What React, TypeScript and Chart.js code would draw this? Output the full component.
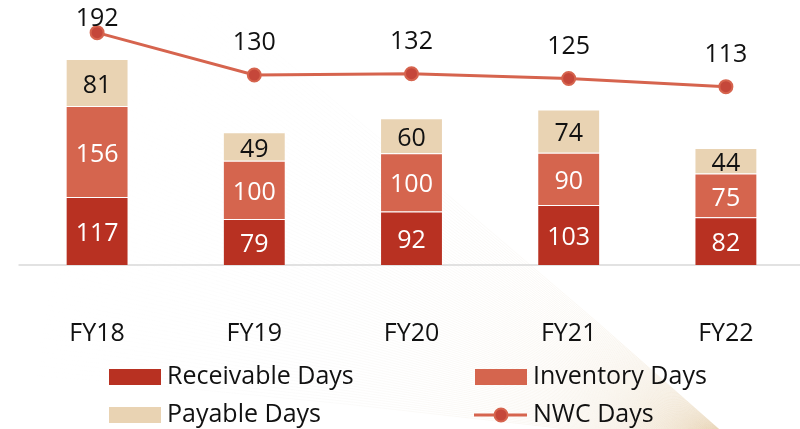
import React, { useEffect, useRef } from "react";
import { Chart, registerables } from "chart.js";

Chart.register(...registerables);

const categories = ["FY18", "FY19", "FY20", "FY21", "FY22"];
const receivableDays = [117, 79, 92, 103, 82];
const inventoryDays = [156, 100, 100, 90, 75];
const payableDays = [81, 49, 60, 74, 44];
const nwcDays = [192, 130, 132, 125, 113];
const seriesNames = ["Receivable Days", "Inventory Days", "Payable Days", "NWC Days"];

const FONT = '"Open Sans", "Noto Sans", sans-serif';
const C_REC = "#B83122";
const C_INV = "#D5654E";
const C_PAY = "#E9D3B3";
const C_LINE = "#D6644E";
const C_POINT = "#C5473A";
const TEXT = "#111111";

const fanPlugin = {
  id: "fanBg",
  beforeDraw(chart: any) {
    const ctx = chart.ctx;
    ctx.save();
    const px = 745;
    const py = 452;
    const grad = ctx.createRadialGradient(px, py, 0, px, py, 720);
    grad.addColorStop(0, "rgba(215,180,125,0.26)");
    grad.addColorStop(0.3, "rgba(220,195,155,0.12)");
    grad.addColorStop(0.65, "rgba(210,210,210,0.08)");
    grad.addColorStop(1, "rgba(225,225,225,0)");
    ctx.strokeStyle = grad;
    ctx.lineWidth = 1;
    const n = 90;
    const a0 = (186 * Math.PI) / 180;
    const a1 = (220 * Math.PI) / 180;
    for (let i = 0; i < n; i++) {
      const a = a0 + ((a1 - a0) * i) / (n - 1);
      ctx.beginPath();
      ctx.moveTo(px, py);
      const bend = 0.03;
      const mx = px + Math.cos(a + bend) * 400;
      const my = py + Math.sin(a + bend) * 400;
      ctx.quadraticCurveTo(mx, my, px + Math.cos(a) * 800, py + Math.sin(a) * 800);
      ctx.stroke();
    }
    ctx.restore();
  },
};

const baselinePlugin = {
  id: "baseline",
  beforeDatasetsDraw(chart: any) {
    const ctx = chart.ctx;
    const y = chart.scales.y.getPixelForValue(0);
    ctx.save();
    ctx.strokeStyle = "#D9D9D9";
    ctx.lineWidth = 1.5;
    ctx.beginPath();
    ctx.moveTo(chart.chartArea.left, y);
    ctx.lineTo(chart.chartArea.right, y);
    ctx.stroke();
    ctx.restore();
  },
};

const labelsPlugin = {
  id: "valueLabels",
  afterDatasetsDraw(chart: any) {
    const ctx = chart.ctx;
    ctx.save();
    ctx.font = `25px ${FONT}`;
    ctx.textAlign = "center";
    ctx.textBaseline = "middle";
    chart.data.datasets.forEach((ds: any, i: number) => {
      const meta = chart.getDatasetMeta(i);
      meta.data.forEach((el: any, j: number) => {
        const v = ds.data[j];
        if (ds.type === "line") {
          ctx.fillStyle = TEXT;
          ctx.fillText(String(v), el.x, Math.max(el.y - 32, 19));
        } else {
          const p = el.getProps(["x", "y", "base"], true);
          ctx.fillStyle = i === 2 ? TEXT : "#FFFFFF";
          ctx.fillText(String(v), p.x, (p.y + p.base) / 2 + 3);
        }
      });
    });
    ctx.restore();
  },
};

const legendPlugin = {
  id: "gridLegend",
  afterDraw(chart: any) {
    const ctx = chart.ctx;
    ctx.save();
    ctx.font = `25px ${FONT}`;
    ctx.textBaseline = "middle";
    ctx.textAlign = "left";
    const cols = [109, 475];
    const rows = [377, 415];
    chart.data.datasets.forEach((ds: any, i: number) => {
      const x = cols[i % 2];
      const y = rows[Math.floor(i / 2)];
      if (ds.type === "line") {
        ctx.strokeStyle = C_LINE;
        ctx.lineWidth = 3;
        ctx.beginPath();
        ctx.moveTo(x - 1, y);
        ctx.lineTo(x + 52, y);
        ctx.stroke();
        ctx.beginPath();
        ctx.arc(x + 26, y, 6.5, 0, Math.PI * 2);
        ctx.fillStyle = C_POINT;
        ctx.fill();
        ctx.lineWidth = 2;
        ctx.strokeStyle = C_LINE;
        ctx.stroke();
      } else {
        ctx.fillStyle = ds.backgroundColor;
        ctx.fillRect(x, y - 8, 52, 16);
      }
      ctx.fillStyle = TEXT;
      ctx.fillText(ds.label, x + 58, y);
    });
    ctx.restore();
  },
};

export default function App() {
  const ref = useRef<HTMLCanvasElement | null>(null);

  useEffect(() => {
    if (!ref.current) return;
    Chart.defaults.font.family = FONT;
    const chart = new Chart(ref.current, {
      type: "bar",
      data: {
        labels: categories,
        datasets: [
          {
            type: "bar",
            label: seriesNames[0],
            data: receivableDays,
            backgroundColor: C_REC,
            borderColor: "rgba(255,255,255,0.3)",
            borderWidth: 1,
            stack: "s",
            yAxisID: "y",
            order: 2,
          },
          {
            type: "bar",
            label: seriesNames[1],
            data: inventoryDays,
            backgroundColor: C_INV,
            borderColor: "rgba(255,255,255,0.3)",
            borderWidth: 1,
            stack: "s",
            yAxisID: "y",
            order: 2,
          },
          {
            type: "bar",
            label: seriesNames[2],
            data: payableDays,
            backgroundColor: C_PAY,
            borderColor: "rgba(255,255,255,0.3)",
            borderWidth: 1,
            stack: "s",
            yAxisID: "y",
            order: 2,
          },
          {
            type: "line",
            label: seriesNames[3],
            data: nwcDays,
            borderColor: C_LINE,
            borderWidth: 3,
            pointRadius: 6.5,
            pointBackgroundColor: C_POINT,
            pointBorderColor: C_LINE,
            pointBorderWidth: 2,
            yAxisID: "y2",
            order: 1,
          } as any,
        ],
      },
      options: {
        responsive: false,
        animation: false,
        layout: { padding: { left: 18.5, right: 0, top: 10, bottom: 0 } },
        datasets: { bar: { categoryPercentage: 1, barPercentage: 0.4 } } as any,
        plugins: { legend: { display: false }, tooltip: { enabled: false } },
        scales: {
          x: {
            stacked: true,
            grid: { display: false, drawTicks: false },
            border: { display: false },
            ticks: { color: TEXT, font: { size: 25, family: FONT }, padding: 54 },
            afterFit: (axis: any) => {
              axis.height = 164;
            },
          },
          y: { stacked: true, display: false, min: 0, max: 438 },
          y2: { display: false, min: -147.7, max: 225.1 },
        },
      },
      plugins: [fanPlugin, baselinePlugin, labelsPlugin, legendPlugin],
    });
    return () => chart.destroy();
  }, []);

  return (
    <div style={{ position: "absolute", left: 0, top: 0, width: 800, height: 429, overflow: "hidden", background: "#fff" }}>
      <canvas ref={ref} width={813} height={429} style={{ display: "block" }} />
    </div>
  );
}
